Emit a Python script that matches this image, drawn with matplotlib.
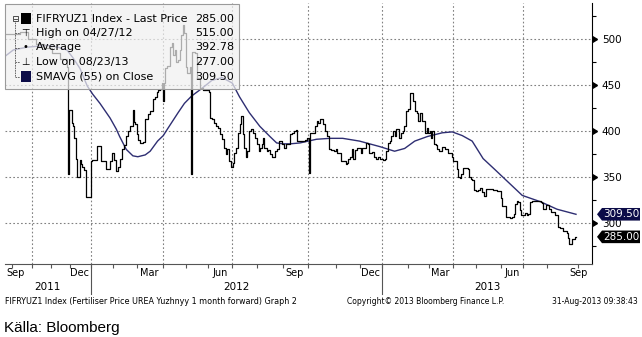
import numpy as np
import pandas as pd
import matplotlib
matplotlib.use("Agg")
import matplotlib.pyplot as plt
import matplotlib.dates as mdates
import matplotlib.transforms as mtransforms
from matplotlib.patches import Rectangle, Polygon
from matplotlib.lines import Line2D
from matplotlib.ticker import FixedLocator, NullFormatter

W, H = 642, 337
plt.rcParams['font.family'] = ['DejaVu Sans']

# FIFRYUZ1 Index - last price
price_dates = [
    '2011-08-22', '2011-09-01', '2011-09-13', '2011-09-26', '2011-10-08', '2011-10-21',
    '2011-11-02', '2011-11-15', '2011-11-26', '2011-11-28', '2011-11-29', '2011-12-04',
    '2011-12-05', '2011-12-07', '2011-12-10', '2011-12-12', '2011-12-16', '2011-12-18',
    '2011-12-19', '2011-12-22', '2011-12-25', '2012-01-01', '2012-01-03', '2012-01-10',
    '2012-01-14', '2012-01-15', '2012-01-19', '2012-01-22', '2012-01-25', '2012-01-28',
    '2012-01-31', '2012-02-02', '2012-02-05', '2012-02-07', '2012-02-09', '2012-02-12',
    '2012-02-14', '2012-02-17', '2012-02-19', '2012-02-21', '2012-02-25', '2012-02-26',
    '2012-02-27', '2012-03-01', '2012-03-02', '2012-03-05', '2012-03-08', '2012-03-11',
    '2012-03-14', '2012-03-17', '2012-03-20', '2012-03-23', '2012-03-25', '2012-03-26',
    '2012-03-29', '2012-03-31', '2012-04-01', '2012-04-03', '2012-04-04', '2012-04-07',
    '2012-04-11', '2012-04-13', '2012-04-14', '2012-04-17', '2012-04-18', '2012-04-21',
    '2012-04-23', '2012-04-24', '2012-04-25', '2012-04-27', '2012-04-29', '2012-05-01',
    '2012-05-03', '2012-05-06', '2012-05-08', '2012-05-09', '2012-05-13', '2012-05-16',
    '2012-05-17', '2012-05-21', '2012-05-25', '2012-05-31', '2012-06-02', '2012-06-03',
    '2012-06-06', '2012-06-09', '2012-06-11', '2012-06-14', '2012-06-16', '2012-06-19',
    '2012-06-21', '2012-06-24', '2012-06-25', '2012-06-28', '2012-06-30', '2012-07-03',
    '2012-07-04', '2012-07-07', '2012-07-09', '2012-07-11', '2012-07-13', '2012-07-15',
    '2012-07-16', '2012-07-19', '2012-07-20', '2012-07-23', '2012-07-25', '2012-07-28',
    '2012-07-30', '2012-08-02', '2012-08-04', '2012-08-05', '2012-08-08', '2012-08-09',
    '2012-08-10', '2012-08-14', '2012-08-15', '2012-08-17', '2012-08-19', '2012-08-23',
    '2012-08-25', '2012-08-28', '2012-08-30', '2012-08-31', '2012-09-03', '2012-09-05',
    '2012-09-10', '2012-09-12', '2012-09-15', '2012-09-17', '2012-09-18', '2012-09-28',
    '2012-09-30', '2012-10-03', '2012-10-04', '2012-10-07', '2012-10-09', '2012-10-11',
    '2012-10-13', '2012-10-15', '2012-10-17', '2012-10-18', '2012-10-20', '2012-10-23',
    '2012-10-25', '2012-10-27', '2012-10-30', '2012-11-01', '2012-11-03', '2012-11-08',
    '2012-11-10', '2012-11-14', '2012-11-15', '2012-11-17', '2012-11-19', '2012-11-22',
    '2012-11-23', '2012-11-25', '2012-11-28', '2012-12-03', '2012-12-04', '2012-12-07',
    '2012-12-10', '2012-12-13', '2012-12-14', '2012-12-18', '2012-12-21', '2012-12-24',
    '2012-12-26', '2012-12-29', '2013-01-02', '2013-01-05', '2013-01-06', '2013-01-08',
    '2013-01-11', '2013-01-12', '2013-01-14', '2013-01-16', '2013-01-18', '2013-01-20',
    '2013-01-21', '2013-01-24', '2013-01-26', '2013-01-27', '2013-01-30', '2013-02-01',
    '2013-02-04', '2013-02-06', '2013-02-08', '2013-02-10', '2013-02-13', '2013-02-14',
    '2013-02-17', '2013-02-19', '2013-02-21', '2013-02-24', '2013-02-26', '2013-02-28',
    '2013-03-02', '2013-03-04', '2013-03-05', '2013-03-07', '2013-03-10', '2013-03-11',
    '2013-03-14', '2013-03-18', '2013-03-22', '2013-03-26', '2013-03-31', '2013-04-01',
    '2013-04-04', '2013-04-06', '2013-04-08', '2013-04-10', '2013-04-11', '2013-04-14',
    '2013-04-19', '2013-04-21', '2013-04-22', '2013-04-24', '2013-04-26', '2013-04-28',
    '2013-05-01', '2013-05-04', '2013-05-06', '2013-05-09', '2013-05-11', '2013-05-14',
    '2013-05-19', '2013-05-23', '2013-05-28', '2013-06-01', '2013-06-03', '2013-06-07',
    '2013-06-08', '2013-06-14', '2013-06-16', '2013-06-19', '2013-06-20', '2013-06-23',
    '2013-06-24', '2013-06-27', '2013-06-28', '2013-07-04', '2013-07-06', '2013-07-07',
    '2013-07-10', '2013-07-12', '2013-07-24', '2013-07-26', '2013-07-27', '2013-07-30',
    '2013-07-31', '2013-08-02', '2013-08-03', '2013-08-05', '2013-08-09', '2013-08-11',
    '2013-08-12', '2013-08-14', '2013-08-17', '2013-08-19', '2013-08-21', '2013-08-22',
    '2013-08-23', '2013-08-26', '2013-08-29', '2013-08-30',
]
price_values = [
    505, 505, 507, 500, 495, 490,
    485, 478, 470, 353, 423, 409,
    405, 392, 370, 350, 369, 364,
    361, 358, 328, 367, 368, 384,
    384, 367, 367, 359, 359, 367,
    376, 369, 356, 361, 370, 380,
    385, 395, 400, 405, 423, 410,
    408, 397, 390, 387, 388, 413,
    418, 422, 435, 437, 442, 445,
    446, 452, 433, 452, 468, 471,
    491, 496, 483, 488, 475, 477,
    488, 501, 504, 515, 506, 469,
    463, 470, 353, 486, 485, 477,
    458, 447, 444, 444, 442, 414,
    413, 409, 405, 403, 397, 391,
    381, 375, 380, 367, 361, 365,
    376, 381, 398, 408, 416, 397,
    381, 372, 378, 400, 402, 398,
    392, 386, 378, 382, 386, 392,
    382, 378, 379, 375, 372, 378,
    380, 389, 389, 386, 382, 386,
    397, 398, 400, 401, 389, 390,
    392, 354, 398, 398, 405, 411,
    409, 413, 413, 408, 400, 394,
    380, 379, 378, 380, 376, 367,
    367, 364, 365, 370, 372, 380,
    370, 379, 382, 376, 381, 381,
    387, 386, 376, 377, 372, 370,
    372, 370, 369, 370, 378, 387,
    389, 394, 400, 394, 402, 402,
    392, 398, 400, 405, 422, 424,
    441, 441, 433, 422, 420, 411,
    420, 411, 411, 398, 403, 398,
    400, 392, 400, 386, 385, 380,
    378, 383, 380, 376, 372, 367,
    367, 359, 350, 349, 353, 360,
    360, 359, 350, 348, 347, 336,
    335, 336, 338, 334, 329, 337,
    337, 336, 335, 327, 318, 318,
    307, 306, 307, 310, 321, 324,
    323, 314, 309, 311, 309, 310,
    323, 324, 323, 322, 315, 315,
    320, 320, 315, 312, 309, 309,
    296, 295, 291, 291, 289, 284,
    277, 283, 285, 285,
]

# SMAVG (55) on Close
sma_dates = [
    '2011-08-21', '2011-09-03', '2011-09-24', '2011-10-26', '2011-11-12', '2011-11-26',
    '2011-12-05', '2011-12-16', '2011-12-27', '2012-01-04', '2012-01-14', '2012-01-28',
    '2012-02-05', '2012-02-09', '2012-02-17', '2012-02-25', '2012-03-02', '2012-03-11',
    '2012-03-17', '2012-03-26', '2012-04-02', '2012-04-08', '2012-04-21', '2012-04-29',
    '2012-05-09', '2012-05-23', '2012-06-06', '2012-06-19', '2012-07-02', '2012-07-11',
    '2012-07-23', '2012-08-05', '2012-08-17', '2012-08-25', '2012-09-02', '2012-09-10',
    '2012-09-22', '2012-10-11', '2012-10-26', '2012-11-10', '2012-12-01', '2012-12-29',
    '2013-01-16', '2013-01-28', '2013-02-10', '2013-02-27', '2013-03-18', '2013-03-31',
    '2013-04-13', '2013-04-26', '2013-05-10', '2013-05-25', '2013-06-04', '2013-06-30',
    '2013-07-24', '2013-08-11', '2013-08-30',
]
sma_values = [
    481, 488, 491, 493, 491, 488,
    480, 468, 449, 440, 430, 414,
    402, 394, 380, 373, 372, 374,
    378, 389, 395, 403, 420, 430,
    438, 446, 455, 458, 452, 437,
    420, 405, 394, 387, 386, 386,
    387, 391, 392, 392, 389, 383,
    378, 381, 389, 394, 398, 399,
    395, 389, 370, 358, 350, 330,
    323, 315, 309.5,
]

average_value = 392.78
ticker = 'FIFRYUZ1 Index'

y_major = [300, 350, 400, 450, 500]
y_minor = [275, 325, 375, 425, 475, 525]
month_label_dates = ['2011-09-07', '2011-12-16', '2012-03-16', '2012-06-16', '2012-09-16',
                     '2012-12-16', '2013-03-16', '2013-06-16', '2013-09-02']
years = [2011, 2012, 2013]

# Bloomberg squeezes months with few observations: month starts -> pixel column
axis_months = pd.date_range('2011-08-01', '2013-10-01', freq='MS')
axis_month_px = [-8, 12, 31.5, 51, 70, 90.5, 113, 137, 162.5, 186, 208, 231.5, 256.5,
                 282.5, 307.5, 335.5, 359.5, 382, 408, 429, 453, 476, 500.5, 523, 547,
                 578, 602]
month_num = mdates.date2num(axis_months)


def fwd(x):
    return np.interp(x, month_num, axis_month_px)


def inv(p):
    return np.interp(p, axis_month_px, month_num)


def fx(x):
    return x / W


def fy(y):
    return 1 - y / H


price_t = pd.to_datetime(price_dates)
sma_t = pd.to_datetime(sma_dates)
price_v = np.array(price_values, dtype=float)

fig = plt.figure(figsize=(W / 100, H / 100), dpi=100)
ax = fig.add_axes([fx(5), fy(264), (592 - 5) / W, (264 - 3) / H])

ax.plot(price_t, price_v, color='black', lw=0.9, drawstyle='steps-post', zorder=3)
ax.plot(sma_t, sma_values, color='#2e2e72', lw=1.0, zorder=2)

ax.set_xscale('function', functions=(fwd, inv))
ax.set_xlim(inv(5), inv(592))
ax.set_ylim(255.5, 539)

for s in ['top', 'left']:
    ax.spines[s].set_visible(False)
ax.spines['right'].set_color('black')
ax.spines['right'].set_linewidth(0.8)
ax.spines['bottom'].set_color('#555555')
ax.spines['bottom'].set_linewidth(0.8)

# x axis: month ticks, labels mid-month
ax.xaxis.set_major_locator(mdates.MonthLocator())
ax.xaxis.set_major_formatter(NullFormatter())
ax.xaxis.set_minor_locator(FixedLocator(mdates.date2num(pd.to_datetime(month_label_dates))))
ax.xaxis.set_minor_formatter(mdates.DateFormatter('%b'))
ax.tick_params(axis='x', which='major', length=3, width=0.8, color='#555555', direction='out')
ax.tick_params(axis='x', which='minor', length=0, pad=3, labelsize=7)

for q in pd.date_range('2011-10-01', '2013-07-01', freq='QS-JAN'):
    ax.axvline(q, color='#808080', ls=(0, (1.5, 2)), lw=0.8, zorder=1)

xl = ax.get_xlim()
for yr in years:
    a = max(mdates.date2num(pd.Timestamp(f'{yr}-01-01')), xl[0])
    b = min(mdates.date2num(pd.Timestamp(f'{yr + 1}-01-01')), xl[1])
    mid = inv((fwd(a) + fwd(b)) / 2)
    ax.text(mid, -0.088, str(yr), transform=ax.get_xaxis_transform(), ha='center',
            va='center', fontsize=7.5)
    if yr > years[0]:
        ax.axvline(a, ymin=-0.115, ymax=0, color='#555555', lw=0.8, clip_on=False)

# y axis on the right
ax.yaxis.tick_right()
ax.set_yticks(y_major)
ax.set_yticks(y_minor, minor=True)
ax.yaxis.set_minor_formatter(NullFormatter())
ax.tick_params(axis='y', which='both', length=2.6, width=0.8, color='black',
               direction='out', labelsize=7.5, pad=4.5)
ax.grid(axis='y', which='major', color='#808080', ls=(0, (1.5, 2)), lw=0.8)
ax.set_axisbelow(True)
ax.plot(np.ones(len(y_major)), y_major, ls='none', marker=9, ms=5, color='black',
        transform=ax.get_yaxis_transform(), clip_on=False)

# value tags on the right
px_trans = mtransforms.Affine2D().scale(1 / W, 1 / H) + fig.transFigure
tag_trans = mtransforms.blended_transform_factory(px_trans, ax.transData)
ylo, yhi = ax.get_ylim()
hh = 6.3 * (yhi - ylo) / 261
for val, col in [(sma_values[-1], '#0c0c48'), (price_v[-1], 'black')]:
    ax.add_patch(Polygon([(597, val), (602, val + hh), (640, val + hh), (640, val - hh),
                          (602, val - hh)], closed=True, transform=tag_trans, fc=col,
                         ec='none', clip_on=False, zorder=6))
    ax.text(621, val, f'{val:.2f}', transform=tag_trans, ha='center', va='center',
            color='white', fontsize=7.5, clip_on=False, zorder=7)

# legend panel
hi = int(np.argmax(price_v))
lo = int(np.argmin(price_v))
legend_labels = [f'{ticker} - Last Price',
                 f'High on {price_t[hi]:%m/%d/%y}',
                 'Average',
                 f'Low on {price_t[lo]:%m/%d/%y}',
                 'SMAVG (55) on Close']
legend_values = [price_v[-1], price_v[hi], average_value, price_v[lo], sma_values[-1]]
row_y = [18.5, 33, 47.5, 62, 76.5]

fig.add_artist(Rectangle((fx(5), fy(89)), (239 - 5) / W, (89 - 4) / H, transform=fig.transFigure,
                         fc=(0.94, 0.94, 0.94, 0.72), ec='#9a9a9a', lw=0.8, zorder=5))
for lab, val, ry in zip(legend_labels, legend_values, row_y):
    fig.text(fx(35.5), fy(ry), lab, fontsize=8.0, va='center', ha='left', zorder=6)
    fig.text(fx(234), fy(ry), f'{val:.2f}', fontsize=8.0, va='center', ha='right', zorder=6)

fig.add_artist(Rectangle((fx(21), fy(23.5)), 10 / W, 10 / H, transform=fig.transFigure,
                         fc='black', ec='none', zorder=6))
fig.add_artist(Rectangle((fx(21), fy(81.5)), 10 / W, 10 / H, transform=fig.transFigure,
                         fc='#0c0c48', ec='none', zorder=6))
fig.add_artist(Rectangle((fx(12.5), fy(21)), 5 / W, 5 / H, transform=fig.transFigure,
                         fc='none', ec='#333333', lw=0.6, zorder=6))
fig.add_artist(Line2D([fx(13.5), fx(16.5)], [fy(18.5), fy(18.5)], color='#333333', lw=0.6, zorder=6))
fig.add_artist(Line2D([fx(15), fx(15)], [fy(21.5), fy(76.5)], color='#555555', lw=0.6,
                      ls=(0, (2, 1)), zorder=6))
for ry in row_y[1:]:
    fig.add_artist(Line2D([fx(15), fx(20)], [fy(ry), fy(ry)], color='#555555', lw=0.6,
                          ls=(0, (2, 1)), zorder=6))
for sym, ry in [('\u22a4', row_y[1]), ('\u2022', row_y[2]), ('\u22a5', row_y[3])]:
    fig.text(fx(25.5), fy(ry), sym, fontsize=7, ha='center', va='center', zorder=6)

# footer
fig.text(fx(5), fy(301), f'{ticker} (Fertiliser Price UREA Yuzhnyy 1 month forward) Graph 2',
         fontsize=5.8, va='center', ha='left')
fig.text(fx(347), fy(301), 'Copyright\u00a9 2013 Bloomberg Finance L.P.', fontsize=5.5,
         va='center', ha='left')
fig.text(fx(638), fy(301), '31-Aug-2013 09:38:43', fontsize=5.5, va='center', ha='right')
fig.text(fx(4), fy(328), 'K\u00e4lla: Bloomberg', fontsize=11, va='center', ha='left',
         family=['Liberation Sans', 'DejaVu Sans'])

fig.savefig('out.png', dpi=100)
